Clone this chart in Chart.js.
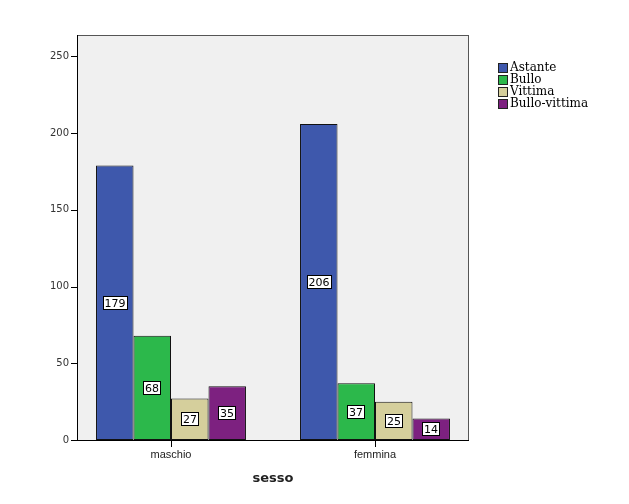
<!DOCTYPE html>
<html>
<head>
<meta charset="utf-8">
<script src="https://cdn.jsdelivr.net/npm/chart.js@4"></script>
<style>
  html, body { margin: 0; padding: 0; background: #fff; }
  #wrap { width: 629px; height: 504px; position: relative; }
</style>
</head>
<body>
<div id="wrap"><canvas id="c" width="629" height="504"></canvas></div>
<script>
// categorie e valori
const categories = ['maschio', 'femmina'];
const seriesNames = ['Astante', 'Bullo', 'Vittima', 'Bullo-vittima'];
const astante = [179, 206];
const bullo = [68, 37];
const vittima = [27, 25];
const bulloVittima = [35, 14];
const yTicks = [0, 50, 100, 150, 200, 250];

const colors = ['#3e58ac', '#2cb84b', '#d5cf9c', '#7d2180'];
const values = [astante, bullo, vittima, bulloVittima];

const INSET = 8; // la cornice è più stretta dell'area delle categorie

// sfondo grigio e cornice dell'area del grafico
const plotBg = {
  id: 'plotBg',
  beforeDraw(chart) {
    const a = chart.chartArea, ctx = chart.ctx;
    ctx.save();
    ctx.fillStyle = '#f0f0f0';
    ctx.fillRect(a.left + INSET, a.top, a.right - a.left - 2 * INSET, a.bottom - a.top);
    ctx.restore();
  },
  afterDraw(chart) {
    const a = chart.chartArea, ctx = chart.ctx;
    const xs = chart.scales.x, ys = chart.scales.y;
    const L = a.left + INSET, R = a.right - INSET;
    ctx.save();
    ctx.strokeStyle = '#555';
    ctx.lineWidth = 1;
    ctx.strokeRect(L + 0.5, a.top + 0.5, R - L - 1, a.bottom - a.top);
    ctx.strokeStyle = '#000';
    ctx.beginPath();
    ctx.moveTo(L, a.bottom + 0.5);
    ctx.lineTo(R, a.bottom + 0.5);
    ctx.moveTo(L + 0.5, a.top);
    ctx.lineTo(L + 0.5, a.bottom + 1);
    // tacche dell'asse x al centro di ogni categoria
    xs.ticks.forEach((t, i) => {
      const px = Math.round(xs.getPixelForTick(i)) + 0.5;
      ctx.moveTo(px, a.bottom);
      ctx.lineTo(px, a.bottom + 7);
    });
    // tacche dell'asse y
    ys.ticks.forEach((t, i) => {
      const py = Math.round(ys.getPixelForTick(i)) + 0.5;
      ctx.moveTo(L - 6, py);
      ctx.lineTo(L, py);
    });
    ctx.stroke();
    ctx.restore();
  }
};

// etichette dei valori al centro di ogni barra
const barLabels = {
  id: 'barLabels',
  afterDatasetsDraw(chart) {
    const ctx = chart.ctx;
    ctx.save();
    ctx.font = '11px "DejaVu Sans"';
    ctx.textAlign = 'center';
    ctx.textBaseline = 'middle';
    chart.data.datasets.forEach((ds, i) => {
      chart.getDatasetMeta(i).data.forEach((bar, j) => {
        const txt = String(ds.data[j]);
        const cx = Math.round(bar.x);
        const cy = Math.round((bar.y + bar.base) / 2);
        const w = Math.ceil(ctx.measureText(txt).width) + 3;
        const h = 13;
        ctx.fillStyle = '#fff';
        ctx.fillRect(cx - w / 2, cy - h / 2, w, h);
        ctx.strokeStyle = '#000';
        ctx.lineWidth = 1;
        ctx.strokeRect(Math.floor(cx - w / 2) + 0.5, Math.floor(cy - h / 2) + 0.5, Math.round(w), h);
        ctx.fillStyle = '#000';
        ctx.fillText(txt, cx, cy + 1);
      });
    });
    ctx.restore();
  }
};

// legenda a destra
const sideLegend = {
  id: 'sideLegend',
  afterDraw(chart) {
    const ctx = chart.ctx;
    ctx.save();
    ctx.font = '12px "DejaVu Serif"';
    ctx.textBaseline = 'middle';
    chart.data.datasets.forEach((ds, i) => {
      const y = 63 + i * 12;
      ctx.fillStyle = ds.backgroundColor;
      ctx.fillRect(498, y, 10, 10);
      ctx.strokeStyle = '#222';
      ctx.lineWidth = 1;
      ctx.strokeRect(498.5, y + 0.5, 9, 9);
      ctx.fillStyle = '#000';
      ctx.fillText(ds.label, 510, y + 5);
    });
    ctx.restore();
  }
};

new Chart(document.getElementById('c'), {
  type: 'bar',
  data: {
    labels: categories,
    datasets: seriesNames.map((name, i) => ({
      label: name,
      data: values[i],
      backgroundColor: colors[i],
      borderColor: '#111',
      borderWidth: 1,
      borderSkipped: false,
      barPercentage: 1.0,
      categoryPercentage: 0.735
    }))
  },
  options: {
    responsive: false,
    animation: false,
    layout: { padding: { left: 0, right: 152, top: 35, bottom: 0 } },
    plugins: { legend: { display: false }, tooltip: { enabled: false } },
    scales: {
      x: {
        afterFit(scale) { scale.height = 64; },
        grid: { display: false, drawTicks: false, offset: false },
        border: { display: false },
        ticks: { padding: 8, color: '#222', font: { family: 'Liberation Sans', size: 11 } },
        title: {
          display: true, text: 'sesso', color: '#222',
          font: { family: 'DejaVu Sans', size: 13, weight: 'bold' },
          padding: { top: 0, bottom: 18 }
        }
      },
      y: {
        min: 0, max: 264,
        afterFit(scale) { scale.width = 69; },
        afterBuildTicks(scale) { scale.ticks = yTicks.map(v => ({ value: v })); },
        grid: { display: false, drawTicks: false },
        border: { display: false },
        ticks: { padding: 0, color: '#333', font: { family: 'DejaVu Sans', size: 10 } }
      }
    }
  },
  plugins: [plotBg, barLabels, sideLegend]
});
</script>
</body>
</html>
